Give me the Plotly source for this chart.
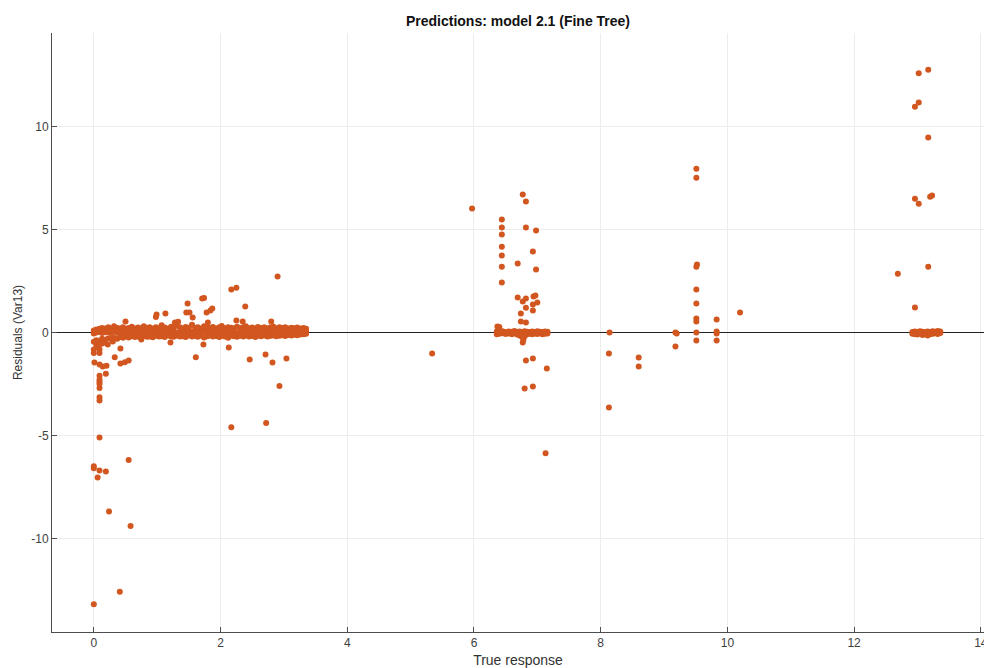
import plotly.graph_objects as go

# ---- data ----
band_x = [0.00,0.04,0.09,0.13,0.18,0.23,0.27,0.32,0.37,0.41,
          0.46,0.51,0.55,0.60,0.65,0.70,0.74,0.79,0.84,0.88,
          0.93,0.98,1.03,1.07,1.12,1.17,1.22,1.26,1.31,1.36,
          1.41,1.45,1.50,1.55,1.60,1.64,1.69,1.74,1.79,1.83,
          1.88,1.93,1.98,2.02,2.07,2.12,2.17,2.21,2.26,2.31,
          2.36,2.40,2.45,2.50,2.55,2.59,2.64,2.69,2.74,2.78,
          2.83,2.88,2.93,2.97,3.02,3.07,3.12,3.16,3.21,3.26,
          3.31,3.35]
band_top = [0.10,0.15,0.18,0.22,0.20,0.25,0.18,0.30,0.22,0.20,
            0.26,0.18,0.22,0.28,0.20,0.24,0.19,0.30,0.22,0.25,
            0.20,0.26,0.21,0.35,0.24,0.20,0.28,0.22,0.33,0.25,
            0.20,0.27,0.23,0.38,0.22,0.26,0.20,0.30,0.24,0.22,
            0.27,0.20,0.25,0.32,0.21,0.26,0.23,0.20,0.28,0.22,
            0.25,0.30,0.21,0.24,0.20,0.27,0.22,0.26,0.20,0.24,
            0.29,0.21,0.25,0.22,0.26,0.20,0.23,0.21,0.24,0.20,
            0.22,0.18]
band_mid = [-0.05,0.00,0.02,-0.03,0.01,0.03,-0.02,0.04,0.00,-0.01,
            0.02,0.05,-0.02,0.01,0.03,0.00,-0.03,0.02,0.04,0.01,
            -0.02,0.03,0.00,0.05,0.01,-0.01,0.02,0.04,0.00,0.03,
            -0.02,0.01,0.05,0.02,-0.01,0.03,0.00,0.04,0.01,-0.02,
            0.02,0.05,0.00,0.03,-0.01,0.02,0.04,0.01,-0.02,0.03,
            0.00,0.02,0.05,0.01,-0.01,0.03,0.00,0.04,0.02,-0.01,
            0.03,0.01,0.05,0.00,0.02,0.04,0.01,0.03,0.02,0.05,
            0.03,0.06]
band_bot = [-0.45,-0.38,-0.42,-0.30,-0.35,-0.28,-0.32,-0.25,-0.30,-0.22,
            -0.26,-0.20,-0.24,-0.18,-0.22,-0.20,-0.25,-0.17,-0.21,-0.19,
            -0.23,-0.16,-0.20,-0.18,-0.22,-0.15,-0.19,-0.21,-0.16,-0.20,
            -0.18,-0.22,-0.15,-0.19,-0.17,-0.21,-0.16,-0.24,-0.18,-0.15,
            -0.20,-0.17,-0.22,-0.16,-0.19,-0.25,-0.15,-0.18,-0.21,-0.16,
            -0.19,-0.15,-0.20,-0.17,-0.22,-0.16,-0.18,-0.15,-0.20,-0.17,
            -0.14,-0.18,-0.16,-0.13,-0.17,-0.12,-0.15,-0.11,-0.13,-0.10,
            -0.09,-0.06]

c2_x = [6.36,6.40,6.45,6.50,6.55,6.60,6.64,6.68,6.72,6.76,6.80,6.84,6.88,6.92,6.96,7.00,7.04,7.08,7.12,7.16]
c2_top = [0.05,0.03,0.06,0.02,0.05,0.04,0.07,0.03,0.05,0.02,0.06,0.04,0.03,0.05,0.02,0.06,0.04,0.03,0.05,0.04]
c2_bot = [-0.08,-0.06,-0.04,-0.07,-0.05,-0.08,-0.03,-0.10,-0.15,-0.12,-0.18,-0.08,-0.06,-0.09,-0.05,-0.07,-0.04,-0.08,-0.06,-0.05]

c3_x = [12.92,12.96,13.00,13.04,13.08,13.12,13.16,13.20,13.24,13.28,13.32,13.36]
c3_top = [0.03,0.05,0.02,0.06,0.04,0.03,0.05,0.02,0.06,0.04,0.07,0.05]
c3_bot = [-0.06,-0.08,-0.10,-0.05,-0.12,-0.08,-0.15,-0.09,-0.06,-0.04,-0.07,-0.03]

out_x = [0.00,0.41,0.24,0.58,0.55,0.00,0.00,0.09,0.19,0.06,0.09,0.09,0.09,0.09,0.09,0.09,0.09,0.09,
         0.00,0.09,0.00,0.09,0.01,0.09,0.14,0.20,0.19,0.33,0.42,0.42,0.49,0.55,0.50,0.75,0.99,0.98,
         1.13,1.21,1.28,1.33,1.48,1.46,1.51,1.56,1.61,1.71,1.74,1.78,1.84,1.87,1.80,1.73,2.17,2.25,
         2.13,2.39,2.25,2.35,2.46,2.71,2.82,3.04,2.80,2.90,2.93,2.17,2.72,0.22,0.30,0.04,0.07,0.12,0.16,
         5.34,5.97,6.77,6.82,6.44,6.44,6.44,6.44,6.44,6.44,6.44,6.82,6.98,6.93,6.69,6.98,6.69,6.77,
         6.82,6.94,6.97,6.93,7.00,6.82,6.93,6.74,6.74,6.82,6.37,6.40,6.77,6.78,6.76,6.82,6.93,7.15,
         6.80,6.93,7.13,
         8.14,8.13,8.13,8.60,8.60,9.18,9.20,9.18,9.51,9.51,9.52,9.51,9.51,9.51,9.51,9.51,9.51,9.51,
         9.83,9.83,9.83,9.83,10.20,
         13.02,13.17,12.96,13.02,13.17,12.96,13.02,13.20,13.23,12.69,13.17,12.96]
out_y = [-13.2,-12.6,-8.7,-9.4,-6.2,-6.5,-6.6,-6.7,-6.75,-7.05,-5.1,-3.15,-3.3,-2.4,-2.7,-2.1,-2.3,-2.5,
         -0.83,-0.83,-1.0,-1.0,-1.46,-1.55,-1.65,-1.62,-2.0,-1.2,-0.78,-1.5,-1.45,-1.36,0.53,-0.34,0.87,0.75,
         0.92,-0.48,0.49,0.52,1.41,0.97,0.97,0.73,-1.2,1.65,1.67,0.97,1.07,1.17,0.49,-0.58,2.09,2.18,
         -0.73,1.26,0.58,0.53,-1.31,-1.07,-1.46,-1.26,0.53,2.72,-2.6,-4.6,-4.4,-0.58,-0.44,-0.6,-0.7,-0.55,-0.5,
         -1.02,6.02,6.7,6.36,5.49,5.1,4.76,4.17,3.74,3.2,2.43,5.1,4.95,3.93,3.35,3.06,1.7,1.5,
         1.65,1.75,1.8,1.36,1.46,1.2,1.07,0.92,0.53,0.49,0.29,0.27,-0.49,-0.35,-0.22,-1.36,-1.26,-1.75,
         -2.72,-2.62,-5.87,
         0.0,-1.02,-3.64,-1.21,-1.65,0.0,-0.05,-0.68,7.96,7.52,3.3,3.2,2.09,1.41,0.68,0.53,0.0,-0.39,
         0.63,0.05,-0.05,-0.39,0.97,
         12.6,12.77,10.97,11.17,9.47,6.5,6.26,6.6,6.65,2.86,3.2,1.21]

assert len(band_x) == len(band_top) == len(band_mid) == len(band_bot)
assert len(c2_x) == len(c2_top) == len(c2_bot)
assert len(c3_x) == len(c3_top) == len(c3_bot)
assert len(out_x) == len(out_y)

x_ticks = [0, 2, 4, 6, 8, 10, 12, 14]
y_ticks = [-10, -5, 0, 5, 10]
y_tick_text = ["-10", "-5", "0", "5", "10"]

all_x = band_x * 3 + c2_x * 2 + c3_x * 2 + out_x
all_y = band_top + band_mid + band_bot + c2_top + c2_bot + c3_top + c3_bot + out_y

MARK = "#D2561F"
AX = "#4d4d4d"
FONT = "Liberation Sans, Arial, sans-serif"

fig = go.Figure()
fig.add_trace(go.Scatter(
    x=all_x, y=all_y, mode="markers",
    marker=dict(size=6, color=MARK, line=dict(width=0)),
    showlegend=False, hoverinfo="x+y",
))

fig.update_layout(
    width=984, height=668,
    margin=dict(l=52, r=0, t=33, b=36),
    paper_bgcolor="white", plot_bgcolor="white",
    font=dict(family=FONT, size=12, color="#333333"),
    title=dict(text="<b>Predictions: model 2.1 (Fine Tree)</b>",
               x=0.5, xref="paper", xanchor="center",
               y=1, yref="container", yanchor="top", pad=dict(t=16),
               font=dict(family=FONT, size=14, color="#111111")),
)
fig.update_xaxes(
    range=[-0.66, 14.05], tickvals=x_ticks,
    automargin=False,
    showgrid=True, gridcolor="#ececec", gridwidth=1,
    zeroline=False,
    showline=True, linecolor=AX, linewidth=1,
    ticks="inside", ticklen=5, tickcolor=AX,
    ticklabeloverflow="allow",
    tickfont=dict(size=12, color="#404040"),
    title=dict(text="True response", standoff=14, font=dict(size=14, color="#333333")),
)
fig.update_yaxes(
    range=[-14.55, 14.55], tickvals=y_ticks, ticktext=y_tick_text,
    automargin=False,
    showgrid=True, gridcolor="#ececec", gridwidth=1,
    zeroline=True, zerolinecolor="#222222", zerolinewidth=1,
    showline=True, linecolor=AX, linewidth=1,
    ticks="inside", ticklen=5, tickcolor=AX,
    tickfont=dict(size=12, color="#404040"),
    title=dict(text="Residuals (Var13)", standoff=6, font=dict(size=12, color="#333333")),
)

fig.write_html("out.html")
